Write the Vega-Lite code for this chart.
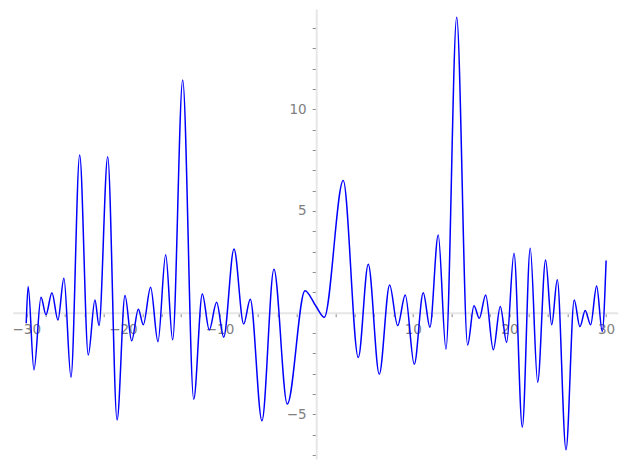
{
  "$schema": "https://vega.github.io/schema/vega-lite/v6.json",
  "width": 605,
  "height": 450,
  "autosize": {"type": "none"},
  "padding": {"left": 12.7, "top": 9, "right": 9.3, "bottom": 10},
  "background": "white",
  "config": {"view": {"stroke": null}},
  "data": {"values": [
    {"x": -30.0, "y": -0.52}, {"x": -29.8, "y": 1.28}, {"x": -29.2, "y": -2.82}, {"x": -28.47, "y": 0.76},
    {"x": -27.96, "y": -0.11}, {"x": -27.34, "y": 0.98}, {"x": -26.72, "y": -0.36}, {"x": -26.1, "y": 1.69},
    {"x": -25.37, "y": -3.18}, {"x": -24.47, "y": 7.75}, {"x": -23.58, "y": -2.08}, {"x": -22.89, "y": 0.62},
    {"x": -22.47, "y": -0.64}, {"x": -21.57, "y": 7.67}, {"x": -20.6, "y": -5.28}, {"x": -19.78, "y": 0.84},
    {"x": -19.09, "y": -1.39}, {"x": -18.4, "y": 0.17}, {"x": -17.89, "y": -0.6}, {"x": -17.13, "y": 1.25},
    {"x": -16.37, "y": -1.43}, {"x": -15.57, "y": 2.84}, {"x": -14.85, "y": -1.34}, {"x": -13.81, "y": 11.44},
    {"x": -12.67, "y": -4.26}, {"x": -11.78, "y": 0.92}, {"x": -11.06, "y": -0.85}, {"x": -10.3, "y": 0.51},
    {"x": -9.57, "y": -1.21}, {"x": -8.5, "y": 3.13}, {"x": -7.5, "y": -0.56}, {"x": -6.82, "y": 0.66},
    {"x": -5.61, "y": -5.32}, {"x": -4.37, "y": 2.13}, {"x": -2.99, "y": -4.5}, {"x": -1.16, "y": 1.08},
    {"x": 0.0, "y": 0.3}, {"x": 0.84, "y": -0.23}, {"x": 2.8, "y": 6.49}, {"x": 4.36, "y": -2.21},
    {"x": 5.39, "y": 2.38}, {"x": 6.53, "y": -3.03}, {"x": 7.6, "y": 1.36}, {"x": 8.43, "y": -0.64},
    {"x": 9.22, "y": 0.87}, {"x": 10.15, "y": -2.54}, {"x": 11.08, "y": 0.98}, {"x": 11.77, "y": -0.72},
    {"x": 12.63, "y": 3.82}, {"x": 13.43, "y": -1.8}, {"x": 14.54, "y": 14.52}, {"x": 15.67, "y": -1.59},
    {"x": 16.33, "y": 0.34}, {"x": 16.88, "y": -0.28}, {"x": 17.54, "y": 0.87}, {"x": 18.33, "y": -1.83},
    {"x": 19.05, "y": 0.3}, {"x": 19.71, "y": -1.46}, {"x": 20.47, "y": 2.92}, {"x": 21.33, "y": -5.63},
    {"x": 22.15, "y": 3.17}, {"x": 22.92, "y": -3.42}, {"x": 23.74, "y": 2.59}, {"x": 24.37, "y": -0.6},
    {"x": 24.95, "y": 1.61}, {"x": 25.85, "y": -6.75}, {"x": 26.7, "y": 0.62}, {"x": 27.29, "y": -0.69},
    {"x": 27.84, "y": 0.1}, {"x": 28.4, "y": -0.6}, {"x": 29.02, "y": 1.31}, {"x": 29.6, "y": -0.93},
    {"x": 30.0, "y": 2.56}
  ]},
  "mark": {"type": "line", "color": "#0000ff", "strokeWidth": 1.5, "interpolate": "monotone"},
  "encoding": {
    "x": {
      "field": "x", "type": "quantitative",
      "scale": {"domain": [-31.4, 31.2], "nice": false, "zero": false},
      "axis": {
        "orient": "bottom", "offset": -146.3, "title": null, "grid": false,
        "values": [-30,-28,-26,-24,-22,-20,-18,-16,-14,-12,-10,-8,-6,-4,-2,2,4,6,8,10,12,14,16,18,20,22,24,26,28,30],
        "labelExpr": "indexof([-30,-20,-10,10,20,30], datum.value) >= 0 ? datum.label : ''",
        "domainColor": "#e6e6e6", "domainWidth": 2,
        "tickColor": "#8c8c8c", "tickSize": 4, "tickWidth": 1,
        "labelFont": "DejaVu Sans", "labelFontSize": 13.5, "labelColor": "#808080",
        "labelPadding": 6, "labelFlush": false, "labelOverlap": false, "zindex": 0
      }
    },
    "y": {
      "field": "y", "type": "quantitative",
      "scale": {"domain": [-7.2, 14.93], "nice": false, "zero": false},
      "axis": {
        "orient": "left", "offset": -303.5, "title": null, "grid": false,
        "values": [-7,-6,-5,-4,-3,-2,-1,1,2,3,4,5,6,7,8,9,10,11,12,13,14],
        "labelExpr": "indexof([-5,5,10], datum.value) >= 0 ? datum.label : ''",
        "domainColor": "#e6e6e6", "domainWidth": 2,
        "tickColor": "#8c8c8c", "tickSize": 4, "tickWidth": 1,
        "labelFont": "DejaVu Sans", "labelFontSize": 13.5, "labelColor": "#808080",
        "labelPadding": 6, "labelFlush": false, "labelOverlap": false, "zindex": 0
      }
    }
  }
}
